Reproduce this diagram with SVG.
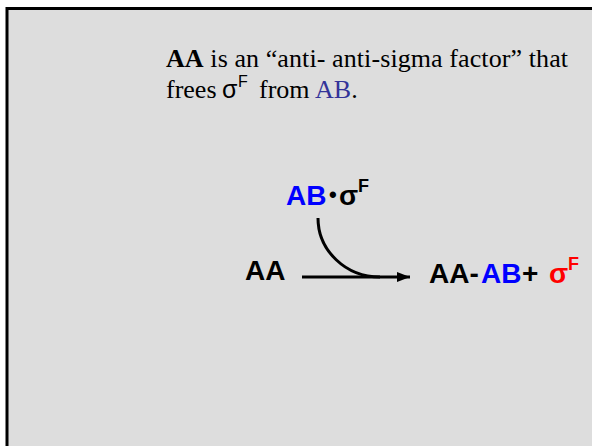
<svg xmlns="http://www.w3.org/2000/svg" width="592" height="446" viewBox="0 0 592 446">
<style>
.serif{font-family:"Liberation Serif","Times New Roman",serif;font-size:26px;fill:#000}
.sans{font-family:"Liberation Sans",Arial,sans-serif;font-weight:bold;font-size:28px;fill:#000}
.blue{fill:#0000ff}
.purple{fill:#333399}
.red{fill:#ff0000}
.conn{fill:none;stroke:#000;stroke-width:3}
</style>
<defs>
<marker id="ah" markerWidth="14" markerHeight="12" refX="13" refY="6" orient="auto" markerUnits="userSpaceOnUse">
<path d="M0,1 L13,6 L0,11 Z" fill="#000"/>
</marker>
</defs>
<rect x="0" y="0" width="592" height="446" fill="#ffffff"/>
<rect x="7" y="8.5" width="600" height="460" fill="#dddddd" stroke="#000" stroke-width="3"/>
<g id="caption">
<text class="serif" x="166" y="67" textLength="402" lengthAdjust="spacing"><tspan font-weight="bold">AA</tspan> is an “anti- anti-sigma factor” that</text>
<text class="serif" y="98"><tspan x="166">frees</tspan><tspan x="222" font-family="Liberation Sans, Arial, sans-serif" font-size="25">σ</tspan><tspan x="238" dy="-11" font-family="Liberation Sans, Arial, sans-serif" font-size="16">F</tspan><tspan x="259" dy="11">from</tspan><tspan x="315" class="purple">AB</tspan><tspan>.</tspan></text>
</g>
<g id="connectors">
<path class="conn" d="M318,218 A62,59 0 0 0 380,277"/>
<line class="conn" x1="302" y1="277" x2="410" y2="277" marker-end="url(#ah)"/>
</g>
<g id="complex">
<text class="sans" y="205"><tspan x="286" class="blue">AB</tspan><tspan x="329" font-size="22" dy="-3">•</tspan><tspan x="339" dy="3">σ</tspan><tspan x="358" dy="-13" font-size="18">F</tspan></text>
</g>
<g id="aa">
<text class="sans" x="245" y="280">AA</text>
</g>
<g id="products">
<text class="sans" y="283"><tspan x="429">AA-</tspan><tspan x="481" class="blue">AB</tspan><tspan x="522">+</tspan><tspan x="549" class="red">σ</tspan><tspan x="568" dy="-13" font-size="18" class="red">F</tspan></text>
</g>
</svg>
